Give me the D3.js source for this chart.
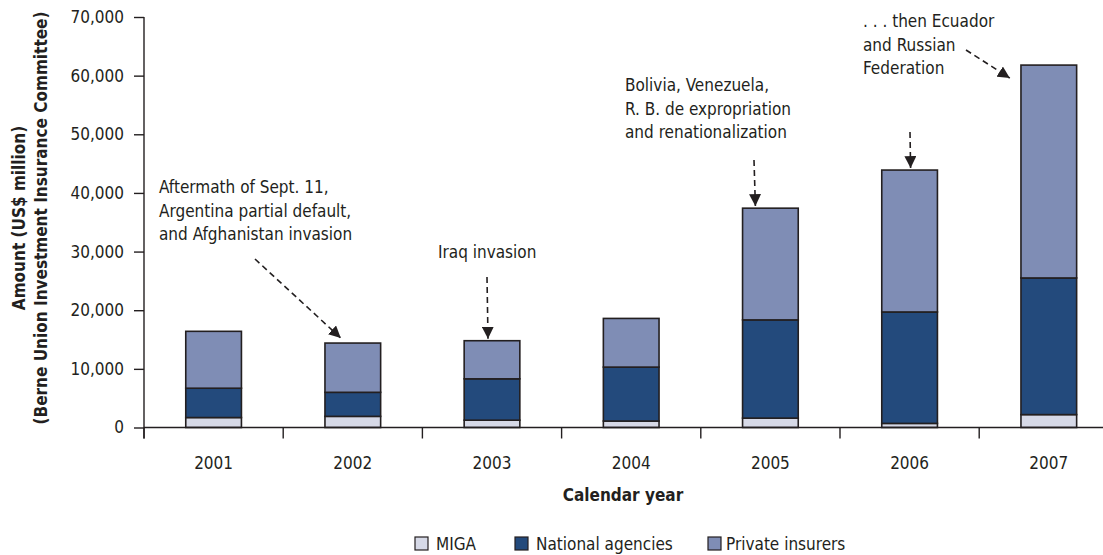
<!DOCTYPE html>
<html>
<head>
<meta charset="utf-8">
<script src="https://cdn.jsdelivr.net/npm/d3@7"></script>
<style>
  body { margin: 0; background: #fff; }
  svg { display: block; }
  text { font-family: "DejaVu Sans Condensed", "Liberation Sans Narrow", sans-serif; fill: #231f20; }
</style>
</head>
<body>
<div class="chart"></div>
<script>
// investment insurance amounts by year, US$ million
var years = ["2001", "2002", "2003", "2004", "2005", "2006", "2007"];
var miga = [1700, 1900, 1250, 1100, 1600, 700, 2200];
var nationalAgencies = [5000, 4100, 7050, 9200, 16750, 19000, 23300];
var privateInsurers = [9700, 8400, 6500, 8300, 19050, 24200, 36300];
var yTicks = [0, 10000, 20000, 30000, 40000, 50000, 60000, 70000];
var seriesNames = ["MIGA", "National agencies", "Private insurers"];
var seriesColors = ["#d6d9e7", "#234a7c", "#7f8db5"];

// notes drawn above the bars
var notes = [
  {year: "2002", lines: ["Aftermath of Sept. 11,", "Argentina partial default,", "and Afghanistan invasion"]},
  {year: "2003", lines: ["Iraq invasion"]},
  {year: "2005", lines: ["Bolivia, Venezuela,", "R. B. de expropriation", "and renationalization"]},
  {year: "2006", lines: []},
  {year: "2007", lines: [". . . then Ecuador", "and Russian", "Federation"]}
];

window.onload = function() {
  var width = 1103, height = 555;
  var margin = {top: 17, left: 144, bottom: 128};
  var plotBottom = height - margin.bottom + 0.5;
  var fs = "17px";

  var svg = d3.select(".chart").append("svg")
              .attr("width", width)
              .attr("height", height);

  var data = years.map(function(y, i) {
    return {year: y, MIGA: miga[i], "National agencies": nationalAgencies[i], "Private insurers": privateInsurers[i]};
  });
  var stacked = d3.stack().keys(seriesNames)(data);

  var x = d3.scaleBand()
            .domain(years)
            .range([margin.left, margin.left + 139.2 * years.length])
            .paddingInner(0.6)
            .paddingOuter(0.3);
  var xEdge = d3.scaleBand().domain(years).range(x.range());

  var y = d3.scaleLinear()
            .domain([0, 70000])
            .range([plotBottom, margin.top]);

  // bars
  svg.append("g").selectAll("g")
     .data(stacked)
     .enter().append("g")
     .attr("fill", function(d, i) { return seriesColors[i]; })
     .selectAll("rect")
     .data(function(d) { return d; })
     .enter().append("rect")
     .attr("x", function(d) { return x(d.data.year); })
     .attr("y", function(d) { return y(d[1]); })
     .attr("width", x.bandwidth())
     .attr("height", function(d) { return y(d[0]) - y(d[1]); })
     .attr("stroke", "#231f20")
     .attr("stroke-width", 1.6);

  // y axis
  var yAxis = svg.append("g")
     .attr("transform", "translate(" + margin.left + ",0)")
     .call(d3.axisLeft(y).tickValues(yTicks).tickSize(10).tickSizeOuter(0)
             .tickFormat(d3.format(",")));
  yAxis.selectAll("text").style("font-size", fs).attr("x", -20);

  // x axis, ticks at the category edges
  var xAxis = svg.append("g")
     .attr("transform", "translate(0," + plotBottom + ")");
  xAxis.append("line")
       .attr("x1", margin.left).attr("x2", width)
       .attr("stroke", "#231f20").attr("stroke-width", 1.4);
  xAxis.selectAll(".edge")
       .data(years)
       .enter().append("line")
       .attr("x1", function(d) { return xEdge(d); })
       .attr("x2", function(d) { return xEdge(d); })
       .attr("y1", 0).attr("y2", 11)
       .attr("stroke", "#231f20").attr("stroke-width", 1.4);
  xAxis.selectAll(".yr")
       .data(years)
       .enter().append("text")
       .attr("x", function(d) { return x(d) + x.bandwidth() / 2; })
       .attr("y", 41)
       .attr("text-anchor", "middle")
       .style("font-size", fs)
       .text(function(d) { return d; });

  yAxis.select(".domain").attr("stroke", "#231f20").attr("stroke-width", 1.4)
       .attr("d", "M0," + (margin.top) + "V" + (plotBottom + 11));
  yAxis.selectAll(".tick line").attr("stroke", "#231f20").attr("stroke-width", 1.4);

  // axis titles
  svg.append("text")
     .attr("x", 623).attr("y", 501)
     .attr("text-anchor", "middle")
     .style("font-size", fs).style("font-weight", "bold")
     .text("Calendar year");

  var yTitle = svg.append("text")
     .attr("transform", "translate(25,218) rotate(-90)")
     .attr("text-anchor", "middle")
     .style("font-size", "17px").style("font-weight", "bold");
  yTitle.append("tspan").attr("x", 0).attr("dy", 0).text("Amount (US$ million)");
  yTitle.append("tspan").attr("x", 0).attr("dy", 22).text("(Berne Union Investment Insurance Committee)");

  // arrowhead
  svg.append("defs").append("marker")
     .attr("id", "arrow")
     .attr("viewBox", "0 0 10 10")
     .attr("refX", 10).attr("refY", 5)
     .attr("markerWidth", 12).attr("markerHeight", 12)
     .attr("markerUnits", "userSpaceOnUse")
     .attr("orient", "auto")
     .append("path")
     .attr("d", "M0,0L10,5L0,10Z")
     .attr("fill", "#231f20");

  function total(yr) {
    var i = years.indexOf(yr);
    return miga[i] + nationalAgencies[i] + privateInsurers[i];
  }

  // note text positions and arrow starts (in px)
  var noteLayout = {
    "2002": {tx: 159, ty: 193, from: [255, 259], dx: -12, dy: -3},
    "2003": {tx: 438, ty: 258, from: [487, 277], dx: -4},
    "2005": {tx: 625, ty: 91, from: [754, 160], dx: -15},
    "2006": {tx: 0, ty: 0, from: [910, 132], dx: 1},
    "2007": {tx: 863, ty: 27, from: [966, 50], dx: -39, dy: 15}
  };

  notes.forEach(function(n) {
    var p = noteLayout[n.year];
    var t = svg.append("text")
               .attr("x", p.tx).attr("y", p.ty)
               .style("font-size", fs);
    n.lines.forEach(function(l, i) {
      t.append("tspan").attr("x", p.tx).attr("dy", i === 0 ? 0 : 23.5).text(l);
    });
    var tipX = x(n.year) + x.bandwidth() / 2 + p.dx;
    var tipY = y(total(n.year)) - 2 + (p.dy || 0);
    svg.append("line")
       .attr("x1", p.from[0]).attr("y1", p.from[1])
       .attr("x2", tipX).attr("y2", tipY)
       .attr("stroke", "#231f20")
       .attr("stroke-width", 1.6)
       .attr("stroke-dasharray", "6,4")
       .attr("marker-end", "url(#arrow)");
  });

  // legend
  var legendX = [415, 515, 708];
  var legend = svg.append("g").selectAll("g")
     .data(seriesNames)
     .enter().append("g")
     .attr("transform", function(d, i) { return "translate(" + legendX[i] + ",537)"; });
  legend.append("rect")
        .attr("width", 13).attr("height", 13)
        .attr("fill", function(d, i) { return seriesColors[i]; })
        .attr("stroke", "#231f20").attr("stroke-width", 1.2);
  legend.append("text")
        .attr("x", function(d, i) { return i === 2 ? 18 : 21; })
        .attr("y", 12.5)
        .style("font-size", fs)
        .text(function(d) { return d; });
};
</script>
</body>
</html>
